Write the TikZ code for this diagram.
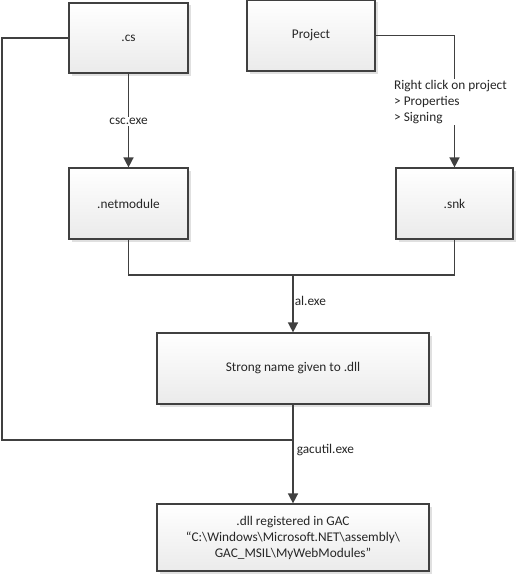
\documentclass[tikz,border=0pt]{standalone}
\usepackage{fontspec}
\setmainfont{Carlito}
\usetikzlibrary{shadows,arrows.meta}
\definecolor{ln}{HTML}{404040}
\definecolor{tx}{HTML}{262626}
\tikzset{
  box/.style={draw=ln, line width=1.2pt, top color=white, bottom color=black!8,
    drop shadow={shadow xshift=2.5pt, shadow yshift=-2.5pt, fill=black!12, opacity=1},
    inner sep=0pt, anchor=center, align=center, text=tx,
    font=\fontsize{13.3}{16}\selectfont},
  conn/.style={draw=ln, line width=1.5pt},
  arr/.style={conn, -{Triangle[length=10pt,width=10pt]}},
  lab/.style={fill=white, inner sep=1pt, text=tx, font=\fontsize{13.3}{16}\selectfont},
}
\begin{document}
\begin{tikzpicture}[x=1pt,y=1pt]
\useasboundingbox (0,0) rectangle (517,-578);
\node[box, minimum width=119, minimum height=70] (cs) at (128.5,-38) {.cs};
\node[box, minimum width=128, minimum height=71] (proj) at (311,-35.5) {Project};
\node[box, minimum width=119, minimum height=71] (net) at (128.5,-203.5) {.netmodule};
\node[box, minimum width=117, minimum height=71] (snk) at (454.5,-203.5) {.snk};
\node[box, minimum width=272, minimum height=71] (strong) at (293,-368.5) {Strong name given to .dll};
\node[box, minimum width=272, minimum height=67] (gac) at (293,-537.5) {.dll registered in GAC\\``C:\textbackslash Windows\textbackslash Microsoft.NET\textbackslash assembly\textbackslash\\GAC\_MSIL\textbackslash MyWebModules''};

\coordinate (j) at (293,-275);
\coordinate (k) at (293,-440);
\coordinate (c1) at (2,-440);

\draw[arr] (cs.south) -- (net.north) node[lab, midway, yshift=-1pt] {csc.exe};
\draw[arr] (proj.east) -| (snk.north) node[lab, pos=0.752, align=left, xshift=-4pt] {Right click on project\\> Properties\\> Signing};
\draw[conn] (net.south) |- (j) -| (snk.south);
\draw[arr] (j) -- (strong.north) node[lab, fill=none, pos=0.45, anchor=west, xshift=0pt] {al.exe};
\draw[conn] (cs.west) -| (c1) -- (k);
\draw[arr] (strong.south) -- (gac.north) node[lab, fill=none, pos=0.46, anchor=west, xshift=2pt] {gacutil.exe};
\end{tikzpicture}
\end{document}
